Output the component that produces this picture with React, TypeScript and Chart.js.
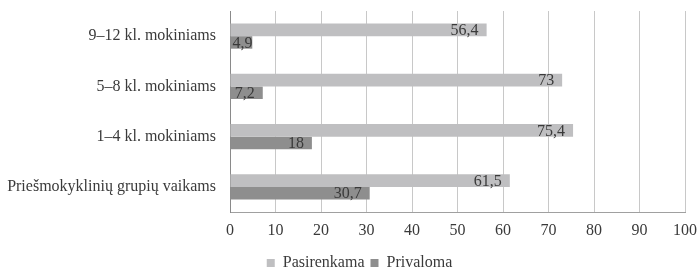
import React, { useEffect, useRef } from "react";
import { Chart, registerables } from "chart.js";

Chart.register(...registerables);

const categories = [
  "9–12 kl. mokiniams",
  "5–8 kl. mokiniams",
  "1–4 kl. mokiniams",
  "Priešmokyklinių grupių vaikams",
];
const pasirenkama = [56.4, 73, 75.4, 61.5];
const privaloma = [4.9, 7.2, 18, 30.7];
const seriesNames = ["Pasirenkama", "Privaloma"];
const xTicks = [0, 10, 20, 30, 40, 50, 60, 70, 80, 90, 100];

const FONT = "'Liberation Serif', 'Times New Roman', serif";
const TEXT = "#3a3a3a";

const labelPlugin = {
  id: "barLabels",
  afterDatasetsDraw(chart: any) {
    const ctx = chart.ctx;
    ctx.save();
    ctx.font = `16px ${FONT}`;
    ctx.fillStyle = TEXT;
    ctx.textBaseline = "middle";
    ctx.textAlign = "left";
    chart.data.datasets.forEach((ds: any, di: number) => {
      const meta = chart.getDatasetMeta(di);
      meta.data.forEach((el: any, i: number) => {
        const txt = String(ds.data[i]).replace(".", ",");
        const w = ctx.measureText(txt).width;
        let x = el.x - 8 - w;
        if (x < el.base + 2) x = el.base + 2;
        ctx.fillText(txt, x, el.y + 1);
      });
    });
    ctx.restore();
  },
};

const legendShift = {
  id: "legendShift",
  afterLayout(chart: any) {
    if (chart.legend) {
      chart.legend.left += 11;
      chart.legend.right += 11;
    }
  },
};

export default function App() {
  const ref = useRef<HTMLCanvasElement>(null);
  useEffect(() => {
    if (!ref.current) return;
    const chart = new Chart(ref.current, {
      type: "bar",
      data: {
        labels: categories,
        datasets: [
          {
            label: seriesNames[0],
            data: pasirenkama,
            backgroundColor: "#bfbfc1",
            categoryPercentage: 0.5,
            barPercentage: 1,
          },
          {
            label: seriesNames[1],
            data: privaloma,
            backgroundColor: "#8e8e8e",
            categoryPercentage: 0.5,
            barPercentage: 1,
          },
        ],
      },
      options: {
        indexAxis: "y",
        animation: false,
        responsive: false,
        maintainAspectRatio: false,
        layout: { padding: { top: 11, right: 2, left: 0, bottom: -12 } },
        scales: {
          x: {
            min: 0,
            max: 100,
            afterBuildTicks(scale: any) {
              scale.ticks = xTicks.map((v) => ({ value: v }));
            },
            afterFit(scale: any) {
              scale.height = 37;
              scale.paddingRight = 14;
              scale.paddingLeft = 0;
            },
            grid: { color: "#c8c8c8", drawTicks: false, lineWidth: 1 },
            border: { display: true, color: "#a0a0a0" },
            ticks: {
              padding: 9,
              color: TEXT,
              font: { family: FONT, size: 16 },
            },
          },
          y: {
            grid: { display: false, drawTicks: false },
            border: { display: true, color: "#8a8a8a" },
            afterFit(scale: any) {
              scale.width = 230;
              scale.paddingTop = 0;
              scale.paddingBottom = 0;
            },
            ticks: {
              padding: 14,
              color: TEXT,
              font: { family: FONT, size: 16 },
            },
          },
        },
        plugins: {
          legend: {
            position: "bottom",
            labels: {
              boxWidth: 8,
              boxHeight: 8,
              padding: 6,
              color: TEXT,
              font: { family: FONT, size: 16 },
            },
          },
          tooltip: { enabled: false },
        },
      },
      plugins: [labelPlugin, legendShift],
    });
    return () => chart.destroy();
  }, []);
  return (
    <div style={{ position: "absolute", left: 0, top: 0, width: 699, height: 269 }}>
      <canvas ref={ref} width={699} height={269} style={{ width: 699, height: 269 }} />
    </div>
  );
}
